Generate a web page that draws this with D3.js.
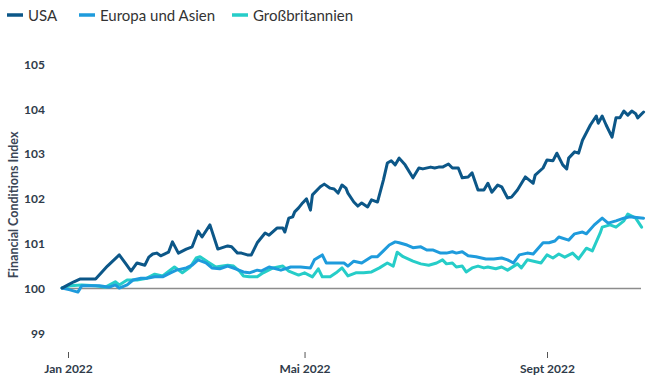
<!DOCTYPE html>
<html><head><meta charset="utf-8">
<script src="https://cdn.jsdelivr.net/npm/d3@7"></script>
<style>
html,body{margin:0;padding:0;background:#fff;}
svg{display:block;}
</style></head>
<body>
<svg id="chart" width="650" height="382"></svg>
<script>
// ---- data ----
const seriesNames = ["USA", "Europa und Asien", "Großbritannien"];
const xTickDates = ["2022-01-01", "2022-05-01", "2022-09-01"];
const xTickLabels = ["Jan 2022", "Mai 2022", "Sept 2022"];
const yTicks = [99, 100, 101, 102, 103, 104, 105];

const usaDates = ["2021-12-29","2022-01-01","2022-01-04","2022-01-07","2022-01-11","2022-01-15","2022-01-21","2022-01-27","2022-01-30","2022-02-02","2022-02-05","2022-02-09","2022-02-11","2022-02-13","2022-02-15","2022-02-17","2022-02-21","2022-02-23","2022-02-26","2022-03-02","2022-03-05","2022-03-08","2022-03-10","2022-03-14","2022-03-18","2022-03-23","2022-03-25","2022-03-28","2022-03-30","2022-04-02","2022-04-04","2022-04-07","2022-04-11","2022-04-13","2022-04-17","2022-04-20","2022-04-21","2022-04-23","2022-04-25","2022-04-26","2022-04-28","2022-04-30","2022-05-02","2022-05-04","2022-05-05","2022-05-09","2022-05-11","2022-05-14","2022-05-16","2022-05-18","2022-05-20","2022-05-22","2022-05-23","2022-05-26","2022-05-28","2022-05-30","2022-06-02","2022-06-04","2022-06-07","2022-06-10","2022-06-12","2022-06-14","2022-06-16","2022-06-18","2022-06-21","2022-06-25","2022-06-28","2022-06-30","2022-07-04","2022-07-06","2022-07-08","2022-07-10","2022-07-13","2022-07-15","2022-07-18","2022-07-20","2022-07-23","2022-07-25","2022-07-28","2022-07-31","2022-08-02","2022-08-04","2022-08-07","2022-08-09","2022-08-12","2022-08-14","2022-08-17","2022-08-18","2022-08-21","2022-08-23","2022-08-25","2022-08-26","2022-08-30","2022-09-01","2022-09-04","2022-09-06","2022-09-09","2022-09-11","2022-09-12","2022-09-15","2022-09-17","2022-09-19","2022-09-23","2022-09-26","2022-09-27","2022-09-29","2022-10-01","2022-10-04","2022-10-06","2022-10-08","2022-10-10","2022-10-12","2022-10-14","2022-10-16","2022-10-17","2022-10-20"];
const usaValues = [100.01,100.08,100.15,100.21,100.21,100.21,100.50,100.75,100.57,100.39,100.57,100.52,100.70,100.77,100.79,100.73,100.81,101.04,100.79,100.88,100.93,101.28,101.15,101.42,100.88,100.95,100.93,100.79,100.79,100.75,100.75,101.02,101.24,101.19,101.35,101.35,101.26,101.57,101.60,101.71,101.80,101.91,102.00,101.75,102.09,102.27,102.33,102.24,102.22,102.13,102.31,102.24,102.13,101.93,101.84,101.91,101.82,101.98,101.93,102.42,102.80,102.85,102.76,102.91,102.76,102.47,102.69,102.67,102.71,102.69,102.71,102.71,102.78,102.69,102.69,102.47,102.49,102.58,102.20,102.20,102.35,102.15,102.31,102.27,102.02,102.04,102.20,102.27,102.49,102.42,102.35,102.53,102.69,102.87,102.85,103.02,102.76,102.67,102.91,103.05,103.02,103.31,103.65,103.85,103.69,103.85,103.65,103.38,103.81,103.81,103.96,103.87,103.96,103.90,103.81,103.94];

const euDates = ["2021-12-29","2022-01-02","2022-01-06","2022-01-08","2022-01-12","2022-01-17","2022-01-22","2022-01-25","2022-01-27","2022-01-31","2022-02-03","2022-02-07","2022-02-10","2022-02-14","2022-02-18","2022-02-22","2022-02-25","2022-03-02","2022-03-05","2022-03-08","2022-03-12","2022-03-15","2022-03-19","2022-03-23","2022-03-27","2022-03-31","2022-04-03","2022-04-07","2022-04-09","2022-04-13","2022-04-19","2022-04-24","2022-04-29","2022-05-04","2022-05-06","2022-05-10","2022-05-12","2022-05-16","2022-05-21","2022-05-23","2022-05-26","2022-05-30","2022-06-04","2022-06-07","2022-06-10","2022-06-13","2022-06-16","2022-06-18","2022-06-22","2022-06-25","2022-06-29","2022-07-02","2022-07-05","2022-07-09","2022-07-12","2022-07-15","2022-07-17","2022-07-20","2022-07-23","2022-07-27","2022-08-01","2022-08-05","2022-08-09","2022-08-12","2022-08-15","2022-08-18","2022-08-22","2022-08-25","2022-08-30","2022-09-02","2022-09-05","2022-09-07","2022-09-12","2022-09-15","2022-09-19","2022-09-21","2022-09-25","2022-09-29","2022-10-02","2022-10-06","2022-10-10","2022-10-13","2022-10-20"];
const euValues = [100.01,99.97,99.92,100.06,100.06,100.06,100.03,100.08,100.01,100.08,100.19,100.23,100.23,100.26,100.26,100.35,100.41,100.46,100.52,100.64,100.57,100.46,100.44,100.50,100.44,100.37,100.35,100.41,100.39,100.48,100.41,100.48,100.48,100.46,100.64,100.75,100.57,100.57,100.57,100.50,100.61,100.57,100.71,100.71,100.84,100.97,101.04,101.02,100.97,100.91,100.93,100.86,100.86,100.79,100.79,100.82,100.79,100.82,100.73,100.71,100.66,100.66,100.68,100.64,100.57,100.75,100.79,100.77,101.02,101.02,101.06,101.15,101.08,101.22,101.26,101.22,101.42,101.57,101.46,101.51,101.57,101.60,101.57];

const ukDates = ["2021-12-29","2022-01-02","2022-01-08","2022-01-15","2022-01-20","2022-01-25","2022-01-27","2022-01-31","2022-02-05","2022-02-10","2022-02-14","2022-02-18","2022-02-24","2022-02-28","2022-03-04","2022-03-07","2022-03-09","2022-03-13","2022-03-17","2022-03-23","2022-03-26","2022-03-29","2022-03-31","2022-04-03","2022-04-07","2022-04-10","2022-04-15","2022-04-20","2022-04-23","2022-04-28","2022-05-01","2022-05-05","2022-05-08","2022-05-10","2022-05-14","2022-05-17","2022-05-20","2022-05-23","2022-05-27","2022-05-31","2022-06-04","2022-06-08","2022-06-12","2022-06-15","2022-06-17","2022-06-20","2022-06-25","2022-06-29","2022-07-03","2022-07-07","2022-07-10","2022-07-12","2022-07-15","2022-07-17","2022-07-20","2022-07-22","2022-07-25","2022-07-28","2022-07-31","2022-08-02","2022-08-06","2022-08-09","2022-08-12","2022-08-17","2022-08-19","2022-08-22","2022-08-29","2022-09-01","2022-09-04","2022-09-07","2022-09-10","2022-09-14","2022-09-17","2022-09-21","2022-09-24","2022-09-28","2022-09-29","2022-10-03","2022-10-06","2022-10-10","2022-10-12","2022-10-16","2022-10-19"];
const ukValues = [100.01,100.06,100.08,100.06,100.03,100.15,100.08,100.19,100.19,100.23,100.32,100.28,100.48,100.35,100.48,100.68,100.71,100.59,100.48,100.52,100.50,100.39,100.28,100.26,100.26,100.35,100.46,100.50,100.39,100.30,100.35,100.26,100.44,100.26,100.26,100.35,100.46,100.28,100.35,100.35,100.37,100.46,100.57,100.50,100.81,100.71,100.61,100.55,100.52,100.57,100.64,100.55,100.57,100.48,100.50,100.37,100.46,100.50,100.46,100.48,100.44,100.48,100.41,100.55,100.46,100.64,100.57,100.75,100.68,100.77,100.70,100.79,100.66,100.90,100.84,101.24,101.37,101.42,101.37,101.51,101.66,101.57,101.37];

// ---- chart ----
const colors = ["#0c5788", "#1e9bdc", "#26cdc8"];
const parse = d3.timeParse("%Y-%m-%d");
const fontFam = "Lato, 'Noto Sans', sans-serif";
const textCol = "#2f3b4a";

const svg = d3.select("#chart");
const x = d3.scaleTime()
  .domain([parse("2022-01-01"), parse("2022-09-01")])
  .range([68, 547]);
const y = d3.scaleLinear().domain([99, 105]).range([333.3, 64.5]);

// baseline at 100
svg.append("line")
  .attr("x1", 63).attr("x2", 641)
  .attr("y1", y(100)).attr("y2", y(100))
  .attr("stroke", "#8c8c8c").attr("stroke-width", 1.5);

// y axis labels
const yAxis = d3.axisLeft(y).tickValues(yTicks).tickSize(0).tickPadding(0).tickFormat(d3.format("d"));
const yg = svg.append("g").attr("transform", "translate(45,0)").call(yAxis);
yg.select(".domain").remove();
yg.selectAll("text")
  .attr("font-family", fontFam).attr("font-weight", 700)
  .attr("font-size", 12).attr("fill", textCol);

// y axis title
svg.append("text")
  .attr("transform", `translate(18,${(y(99)+y(105))/2 + 6}) rotate(-90)`)
  .attr("text-anchor", "middle")
  .attr("font-family", fontFam).attr("font-weight", 700)
  .attr("font-size", 12.5).attr("fill", "#3b4656")
  .text("Financial Conditions Index");

// x axis
const xAxis = d3.axisBottom(x)
  .tickValues(xTickDates.map(parse))
  .tickSize(6).tickPadding(6)
  .tickFormat((d, i) => xTickLabels[i]);
const xg = svg.append("g").attr("transform", "translate(0,352)").call(xAxis);
xg.select(".domain").remove();
xg.selectAll(".tick line").attr("stroke", "#555").attr("stroke-width", 1);
xg.selectAll("text")
  .attr("font-family", fontFam).attr("font-weight", 700)
  .attr("font-size", 12).attr("fill", textCol);

// lines
const line = d3.line().x(d => x(d.date)).y(d => y(d.value));
const allSeries = [
  usaDates.map((d, i) => ({date: parse(d), value: usaValues[i]})),
  euDates.map((d, i) => ({date: parse(d), value: euValues[i]})),
  ukDates.map((d, i) => ({date: parse(d), value: ukValues[i]}))
];
// draw UK first, then Europe, then USA on top
[2, 1, 0].forEach(k => {
  svg.append("path")
    .datum(allSeries[k])
    .attr("fill", "none")
    .attr("stroke", colors[k])
    .attr("stroke-width", 3)
    .attr("stroke-linejoin", "round")
    .attr("stroke-linecap", "round")
    .attr("d", line);
});

// legend
const legendX = [7, 79, 232];
seriesNames.forEach((name, i) => {
  const g = svg.append("g").attr("transform", `translate(${legendX[i]},15)`);
  g.append("line").attr("x1", 0).attr("x2", 16).attr("y1", 0).attr("y2", 0)
    .attr("stroke", colors[i]).attr("stroke-width", 3.5);
  g.append("text").attr("x", 21).attr("y", 5.5)
    .attr("font-family", fontFam).attr("font-size", 15).attr("fill", "#333")
    .text(name);
});
</script>
</body></html>
